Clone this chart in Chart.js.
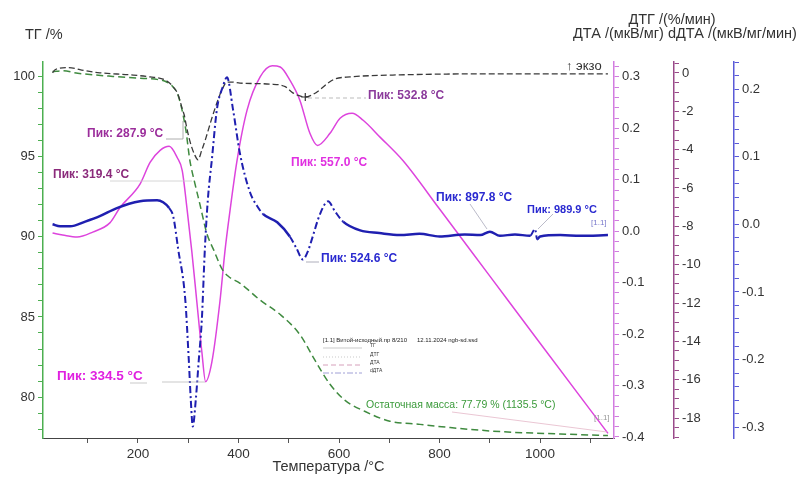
<!DOCTYPE html>
<html><head><meta charset="utf-8">
<script src="https://cdn.jsdelivr.net/npm/chart.js@4.4.1/dist/chart.umd.min.js"></script>
<style>html,body{margin:0;padding:0;background:#fff;}canvas{display:block;}</style>
</head><body>
<canvas id="c" width="805" height="477"></canvas>
<script>
// ---- data ----
const tgT   = [30, 50, 80, 150, 200, 240, 254, 268, 280, 295, 303, 313, 323, 337, 351, 367, 379, 403, 443, 483, 522, 552, 582, 612, 652, 701, 761, 821, 920, 1040, 1135];
const tgVal = [100.3, 100.35, 100.2, 100.0, 99.9, 99.8, 99.7, 99.4, 98.8, 96.7, 94.8, 93.35, 92.05, 90.2, 89.15, 88.0, 87.55, 87.1, 86.05, 85.15, 83.9, 82.3, 80.8, 79.8, 79.1, 78.5, 78.3, 78.1, 77.85, 77.7, 77.6];

const dtgT   = [30, 35, 61, 95, 124, 184, 224, 254, 268, 280, 288, 292, 296, 303, 313, 319.4, 327, 335, 347, 359, 369, 377, 387, 403, 463, 493, 508, 522, 532.8, 546, 562, 578, 592, 622, 721, 920, 1135];
const dtgVal = [0.308, 0.314, 0.318, 0.312, 0.308, 0.304, 0.300, 0.294, 0.283, 0.265, 0.238, 0.226, 0.206, 0.176, 0.148, 0.139, 0.158, 0.181, 0.220, 0.255, 0.279, 0.290, 0.290, 0.288, 0.286, 0.281, 0.269, 0.263, 0.261, 0.265, 0.275, 0.288, 0.296, 0.300, 0.304, 0.306, 0.306];
const dtgPeakT   = [532.8];
const dtgPeakVal = [0.261];

const dtaT   = [30, 50, 79, 110, 144, 164, 204, 224, 244, 262, 278, 288, 298, 307, 317, 327, 334.5, 347, 363, 373, 383, 397, 417, 443, 467, 483, 502, 522, 542, 557, 582, 602, 626, 648, 682, 727, 800, 900, 1000, 1135];
const dtaVal = [-8.35, -8.45, -8.56, -8.3, -7.82, -7.03, -5.8, -4.67, -4.04, -3.83, -4.41, -5.09, -7.19, -9.29, -11.92, -14.54, -16.1, -15.07, -11.92, -9.29, -7.19, -4.57, -1.94, -0.21, 0.37, 0.31, -0.37, -1.42, -3.15, -3.78, -3.15, -2.36, -2.10, -2.47, -3.36, -4.57, -7.1, -10.6, -14.1, -18.8];

const ddtaT   = [30, 45, 65, 95, 124, 158, 204, 238, 250, 262, 270, 280, 294, 301, 305, 309, 315, 321, 327, 333, 339, 347, 357, 369, 377, 389, 403, 423, 437, 449, 477, 502, 515, 528, 538, 546, 562, 578, 592, 608, 642, 680, 721, 760, 800, 850, 881, 900, 920, 950, 980, 990, 994, 1000, 1040, 1080, 1135];
const ddtaVal = [0.0, -0.003, -0.003, 0.004, 0.012, 0.024, 0.034, 0.0355, 0.0325, 0.024, 0.012, -0.037, -0.111, -0.2, -0.259, -0.299, -0.259, -0.2, -0.141, -0.037, 0.037, 0.096, 0.170, 0.204, 0.2175, 0.170, 0.104, 0.047, 0.027, 0.015, 0.003, -0.018, -0.035, -0.052, -0.04, -0.022, 0.015, 0.034, 0.019, 0.004, -0.009, -0.013, -0.016, -0.014, -0.018, -0.015, -0.016, -0.011, -0.017, -0.015, -0.017, -0.007, -0.022, -0.018, -0.016, -0.017, -0.016];

// tick definitions
const xTickValues = [100, 200, 300, 400, 500, 600, 700, 800, 900, 1000, 1100];
const xTickLabels = ['', '200', '', '400', '', '600', '', '800', '', '1000', ''];

const FONT = 'Liberation Sans, Arial, sans-serif';
const pts = (xs, ys) => xs.map((t, i) => ({x: t, y: ys[i]}));
function stepTicks(from, to, step) {
  const n = Math.round((to - from) / step), out = [];
  for (let i = 0; i <= n; i++) out.push({value: +(from + i * step).toFixed(4)});
  return out;
}
function yAxis(pos, weight, min, max, color, width, tickFn, labelFn) {
  return {
    type: 'linear', position: pos, weight, min, max,
    afterBuildTicks: s => { s.ticks = tickFn(); },
    afterFit: s => { s.width = width; },
    ticks: {autoSkip: false, color: '#333', font: {family: FONT, size: 13}, padding: 3, callback: labelFn},
    grid: {drawOnChartArea: false, drawTicks: true, tickLength: 5, color: color, lineWidth: 1},
    border: {display: true, color: color, width: 1.5}
  };
}

const textPlugin = {
  id: 'texts',
  afterDraw(chart) {
    const ctx = chart.ctx;
    ctx.save();
    const txt = (s, x, y, color, size, align, bold) => {
      ctx.font = (bold ? 'bold ' : '') + size + 'px ' + FONT; ctx.fillStyle = color;
      ctx.textAlign = align || 'left'; ctx.textBaseline = 'middle';
      ctx.fillText(s, x, y);
    };
    const line = (p, color, w, dash) => {
      ctx.beginPath(); ctx.strokeStyle = color; ctx.lineWidth = w; ctx.setLineDash(dash || []);
      p.forEach((q, i) => i ? ctx.lineTo(q[0], q[1]) : ctx.moveTo(q[0], q[1]));
      ctx.stroke(); ctx.setLineDash([]);
    };
    // axis titles
    txt('ТГ /%', 25, 35, '#333', 14.5);
    txt('ДТГ /(%/мин)', 672, 20, '#333', 14.5, 'center');
    txt('ДТА /(мкВ/мг) dДТА /(мкВ/мг/мин)', 685, 34, '#333', 14.5, 'center');
    const ca = chart.chartArea;
    txt('Температура /°C', (ca.left + ca.right) / 2, 467, '#333', 14.5, 'center');
    // leader lines
    line([[166,139],[183,139],[183,121]], '#999', 0.8);
    line([[110,181],[192,181]], '#ccc', 0.8);
    line([[308,98],[366,98]], '#aaa', 0.8, [4,3]);
    line([[306,262],[319,262]], '#99a', 0.8);
    line([[470,204],[487,229]], '#aab', 0.8);
    line([[553,214],[538,229]], '#aab', 0.8);
    line([[130,383],[147,383]], '#bbb', 0.8);
    line([[162,382],[205,382]], '#bbb', 0.8);
    line([[452,412],[607,432]], '#e4b8c8', 0.8);
    // peak labels
    txt('Пик: 287.9 °C', 87, 134, '#9b2d9b', 12, 'left', true);
    txt('Пик: 319.4 °C', 53, 175, '#8b2a7b', 12, 'left', true);
    txt('Пик: 557.0 °C', 291, 163, '#e030e0', 12, 'left', true);
    txt('Пик: 532.8 °C', 368, 96, '#8b3a9b', 12, 'left', true);
    txt('Пик: 524.6 °C', 321, 259, '#2a2ad0', 12, 'left', true);
    txt('Пик: 897.8 °C', 436, 198, '#2a2ad0', 12, 'left', true);
    txt('Пик: 989.9 °C', 527, 210, '#2a2ad0', 11, 'left', true);
    txt('[1.1]', 591, 223, '#7a7acc', 8);
    txt('Пик: 334.5 °C', 57, 376, '#e020e0', 13.5, 'left', true);
    txt('Остаточная масса: 77.79 % (1135.5 °C)', 366, 405, '#3a9a3a', 10.5);
    txt('[1.1]', 594, 418, '#999', 8);
    txt('↑ экзо', 566, 66, '#333', 13);
    // small legend block
    txt('[1.1] Витой-исходный.пр 8/210      12.11.2024 ngb-sd.ssd', 323, 340, '#222', 6);
    line([[323,348],[362,348]], '#bbb', 0.8);
    line([[323,357],[362,357]], '#bbb', 0.8, [1,2]);
    line([[323,365],[362,365]], '#c8a', 0.8, [5,3]);
    line([[323,373],[362,373]], '#88c', 0.8, [6,2,2,2]);
    txt('ТГ', 370, 346, '#333', 5);
    txt('ДТГ', 370, 355, '#333', 5);
    txt('ДТА', 370, 363, '#333', 5);
    txt('dДТА', 370, 371, '#333', 5);
    ctx.restore();
  }
};

new Chart(document.getElementById('c'), {
  type: 'line',
  data: {
    datasets: [
      {label: 'dДТА', yAxisID: 'yD', data: pts(ddtaT, ddtaVal), borderColor: '#1f1fb0', borderWidth: 2.5,
       pointRadius: 0, cubicInterpolationMode: 'monotone', order: 1,
       segment: {borderDash: c => {
         const dx = Math.abs(c.p1.x - c.p0.x), dy = Math.abs(c.p1.y - c.p0.y);
         return dy > 1.2 * dx ? [7,3,2,3] : undefined; },
         borderWidth: c => {
         const dx = Math.abs(c.p1.x - c.p0.x), dy = Math.abs(c.p1.y - c.p0.y);
         return dy > 1.2 * dx ? 2 : undefined; }}},
      {label: 'ДТГ', yAxisID: 'yG', data: pts(dtgT, dtgVal), borderColor: '#3a3a3a', borderWidth: 1.3,
       borderDash: [6,3], pointRadius: 0, cubicInterpolationMode: 'monotone', order: 2},
      {label: 'peak', yAxisID: 'yG', data: pts(dtgPeakT, dtgPeakVal), showLine: false, pointStyle: 'cross',
       pointRadius: 4, borderColor: '#333', borderWidth: 1.2, order: 0},
      {label: 'ТГ', yAxisID: 'yT', data: pts(tgT, tgVal), borderColor: '#3f8a3f', borderWidth: 1.5,
       borderDash: [7,4], pointRadius: 0, cubicInterpolationMode: 'monotone', order: 3},
      {label: 'ДТА', yAxisID: 'yA', data: pts(dtaT, dtaVal), borderColor: '#dd44dd', borderWidth: 1.5,
       pointRadius: 0, cubicInterpolationMode: 'monotone', order: 4}
    ]
  },
  options: {
    responsive: false, animation: false, devicePixelRatio: 1,
    layout: {padding: {top: 62, left: 0, right: 0, bottom: 0}},
    plugins: {legend: {display: false}, tooltip: {enabled: false}},
    scales: {
      x: {
        type: 'linear', position: 'bottom', min: 11, max: 1147,
        afterBuildTicks: s => { s.ticks = xTickValues.map(v => ({value: v})); },
        afterFit: s => { s.height = 39; },
        ticks: {autoSkip: false, maxRotation: 0, color: '#333', font: {family: FONT, size: 13.5}, padding: 3,
                callback: (v, i) => xTickLabels[i]},
        grid: {drawOnChartArea: false, drawTicks: true, tickLength: 5, color: '#555'},
        border: {display: true, color: '#444', width: 1}
      },
      yT: yAxis('left', 0, 77.45, 100.9, '#4caf50', 43, () => stepTicks(78, 100, 1),
                v => (Math.round(v) % 5 === 0 ? String(Math.round(v)) : '')),
      yG: yAxis('right', 0, -0.402, 0.329, '#d27ce0', 60, () => stepTicks(-0.4, 0.32, 0.02),
                v => { const i = Math.round(v / 0.02); return i % 5 === 0 ? (i * 0.02).toFixed(1) : ''; }),
      yA: yAxis('right', 1, -19.04, 0.57, '#9a4a8a', 60, () => stepTicks(-19, 0.5, 0.5),
                v => { const i = Math.round(v * 2); return i % 4 === 0 ? String(i / 2) : ''; }),
      yD: yAxis('right', 2, -0.316, 0.240, '#5a5ad8', 71, () => stepTicks(-0.30, 0.24, 0.02),
                v => { const i = Math.round(v / 0.02); return i % 5 === 0 ? (i * 0.02).toFixed(1) : ''; })
    }
  },
  plugins: [textPlugin]
});
</script>
</body></html>
